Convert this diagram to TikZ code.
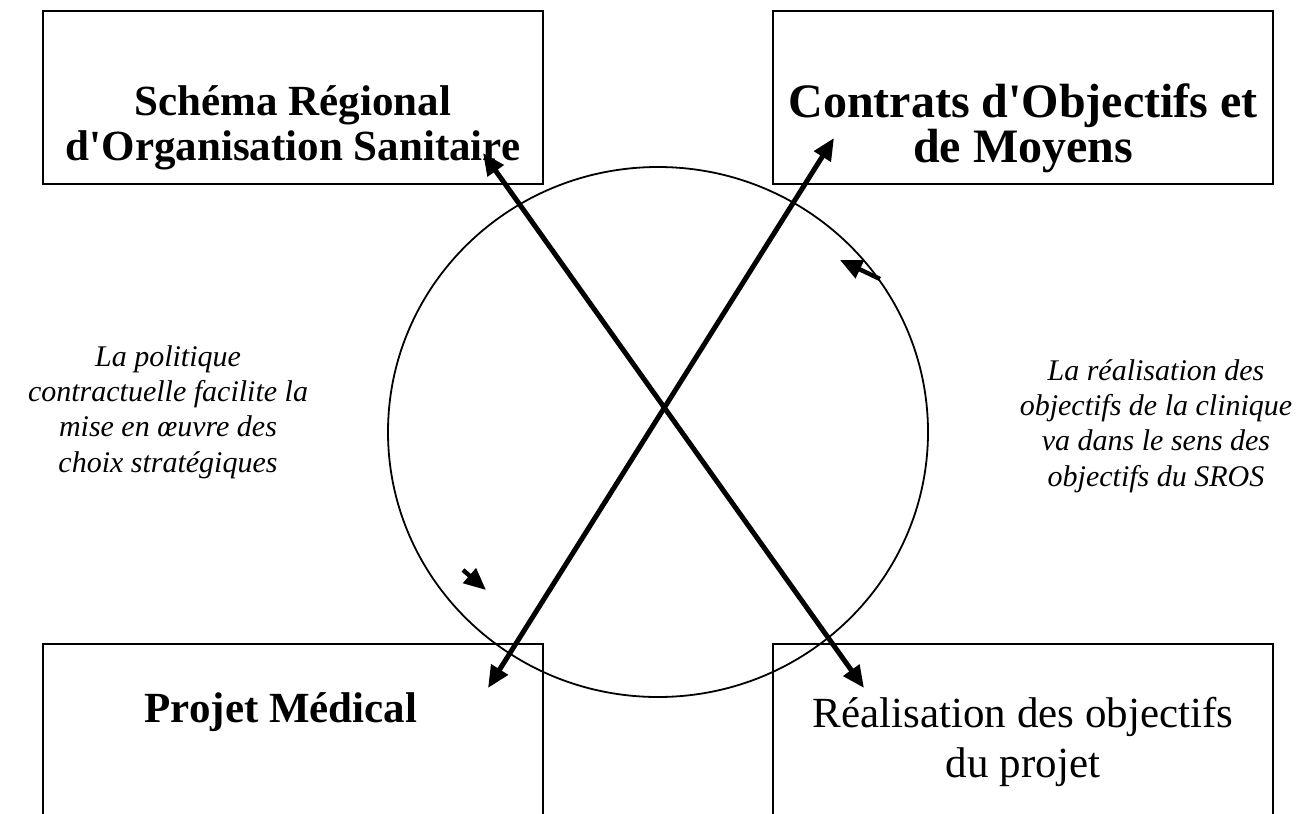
\documentclass[tikz,border=0pt]{standalone}
\usepackage{fontspec}
\setmainfont{Liberation Serif}[Ligatures=TeXOff]
\usetikzlibrary{arrows.meta,shapes.geometric}
\begin{document}
\begin{tikzpicture}[x=1pt,y=-1pt,
  box/.style={draw,line width=2.4pt,minimum width=500pt,minimum height=173pt,inner sep=0pt},
  boldtitle/.style={font=\fontsize{43}{45}\selectfont\bfseries,align=center},
  bigtitle/.style={font=\fontsize{48}{45}\selectfont\bfseries,align=center},
  plaintitle/.style={font=\fontsize{43}{50}\selectfont,align=center},
  note/.style={font=\fontsize{30}{35.3}\selectfont\itshape,align=center},
  bigarrow/.style={line width=5pt,{Triangle[length=22pt,width=19pt]}-{Triangle[length=22pt,width=19pt]}},
  smallarrow/.style={line width=4.4pt,-{Triangle[length=22pt,width=19pt]}}]
\useasboundingbox (0,0) rectangle (1296,814);
\fill[white] (0,0) rectangle (1296,814);
% top boxes
\node[box] (sros) at (293,97.5) {};
\node[boldtitle] (srost) at (293,128) {Schéma Régional\\d'Organisation Sanitaire};
\node[box] (com) at (1023,97.5) {};
\node[bigtitle] (comt) at (1023,128) {Contrats d'Objectifs et\\de Moyens};
% bottom boxes (open at the bottom)
\draw[line width=2.4pt] (43,814) -- (43,644) -- (543,644) -- (543,814);
\draw[line width=2.4pt] (773,814) -- (773,644) -- (1273,644) -- (1273,814);
\node[boldtitle] (pm) at (281,712) {Projet Médical};
\node[plaintitle] (real) at (1023,742) {Réalisation des objectifs\\du projet};
% ellipse
\node[draw,ellipse,line width=1.8pt,minimum width=540pt,minimum height=530pt,inner sep=0pt] (ell) at (658,432) {};
% crossing arrows
\coordinate (a1) at (483,153);
\coordinate (a2) at (864,688);
\coordinate (b1) at (834,138);
\coordinate (b2) at (488,688);
\draw[bigarrow] (a1) -- (a2);
\draw[bigarrow] (b2) -- (b1);
% small arrows on ellipse
\coordinate (s1) at (880,279);
\coordinate (t1) at (840,260);
\coordinate (s2) at (463,570);
\coordinate (t2) at (486,590);
\draw[smallarrow] (s1) -- (t1);
\draw[smallarrow] (s2) -- (t2);
% notes
\node[note] (left) at (168,412) {La politique\\contractuelle facilite la\\mise en œuvre des\\choix stratégiques};
\node[note] (right) at (1156,426) {La réalisation des\\objectifs de la clinique\\va dans le sens des\\objectifs du SROS};
\end{tikzpicture}
\end{document}
